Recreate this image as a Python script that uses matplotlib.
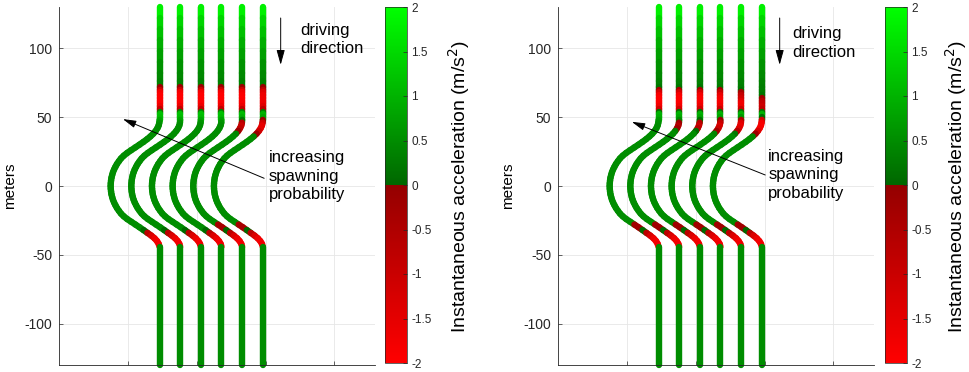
import numpy as np
import matplotlib
matplotlib.use('Agg')
import matplotlib.pyplot as plt
from matplotlib.collections import LineCollection
from matplotlib.colors import LinearSegmentedColormap, Normalize
from matplotlib.cm import ScalarMappable

plt.rcParams['font.family'] = ['Liberation Sans', 'DejaVu Sans']
plt.rcParams['axes.unicode_minus'] = False

# lane centre x positions (m)
lane_x = [23, 38, 53, 68, 83, 98]

# centre line of one lane: straight top part, S-bend, straight bottom part
top_y = [130, 122, 114, 106, 98, 90, 82, 76, 72, 70, 68, 66, 64, 62, 60, 58, 56, 54, 52, 50]
bend_y = [50, 48, 46, 44, 42, 40, 38, 36, 34, 32, 30, 28, 26, 24, 22, 20,
          18, 16, 14, 12, 10, 8, 6, 4, 2, 0, -2, -4, -6, -8, -10, -12,
          -14, -16, -18, -20, -22, -24, -26, -28, -30, -32, -34, -36, -38, -40, -42, -44]
bend_dx = [0, 0, -0.15, -0.6, -1.5, -2.8, -4.5, -6.6, -9.0, -11.7, -14.6, -17.6, -20.6, -23.5, -26.0, -28.0,
           -29.5, -30.9, -32.0, -33.0, -33.8, -34.4, -34.9, -35.2, -35.4, -35.5, -35.4, -35.2, -34.9, -34.4, -33.8, -33.0,
           -32.0, -30.9, -29.5, -28.0, -26.0, -23.5, -20.5, -17.5, -14.5, -11.6, -8.8, -6.0, -3.6, -1.8, -0.6, 0]
bottom_y = [-44, -130]

# instantaneous acceleration (m/s^2) along each lane, one row per lane
left_top_acc = [
    [2.0, 1.6, 1.3, 1.05, 0.85, 0.65, 0.5, 0.4, 0.3, -0.6, -1.6, -2.0, -2.0, -2.0, -2.0, -1.9, -1.4, -0.3, 1.2, 1.2],
    [2.0, 1.6, 1.3, 1.05, 0.85, 0.65, 0.5, 0.4, 0.3, -0.6, -1.6, -2.0, -2.0, -2.0, -2.0, -1.9, -1.4, -0.3, 1.2, 1.2],
    [2.0, 1.6, 1.3, 1.05, 0.85, 0.65, 0.5, 0.4, 0.3, -0.6, -1.6, -2.0, -2.0, -2.0, -2.0, -1.9, -1.4, -0.3, 1.2, 1.2],
    [2.0, 1.6, 1.3, 1.05, 0.85, 0.65, 0.5, 0.4, 0.3, -0.6, -1.6, -2.0, -2.0, -2.0, -2.0, -1.9, -1.4, -0.3, 1.2, 1.2],
    [2.0, 1.6, 1.3, 1.05, 0.85, 0.65, 0.5, 0.4, 0.3, -0.6, -1.6, -1.9, -2.0, -2.0, -1.9, -1.8, -1.4, -0.3, 1.1, 1.1],
    [2.0, 1.6, 1.3, 1.05, 0.85, 0.65, 0.5, 0.4, 0.3, -0.4, -1.2, -1.6, -1.7, -1.7, -1.7, -1.6, -1.2, -0.3, 1.0, 1.0],
]
left_bend_acc = [
    [1.2, 1.0, 0.7, 0.5, 0.5, 0.5, 0.5, 0.5, 0.5, 0.5, 0.5, 0.5, 0.5, 0.5, 0.5, 0.5,
     0.5, 0.5, 0.5, 0.5, 0.5, 0.5, 0.5, 0.5, 0.5, 0.5, 0.5, 0.5, 0.5, 0.5, 0.5, 0.5,
     0.5, 0.5, 0.5, 0.5, 0.5, 0.5, 0.5, 0.5, 0.5, 0.5, -0.4, -1.1, -1.5, -1.8, -1.8, -1.6],
    [1.2, 1.0, 0.7, 0.5, 0.5, 0.5, 0.5, 0.5, 0.5, 0.5, 0.5, 0.5, 0.5, 0.5, 0.5, 0.5,
     0.5, 0.5, 0.5, 0.5, 0.5, 0.5, 0.5, 0.5, 0.5, 0.5, 0.5, 0.5, 0.5, 0.5, 0.5, 0.5,
     0.5, 0.5, 0.5, 0.5, 0.5, 0.5, 0.5, 0.5, 0.5, 0.5, -0.4, -1.1, -1.5, -1.8, -1.8, -1.6],
    [1.2, 1.0, 0.7, 0.5, 0.5, 0.5, 0.5, 0.5, 0.5, 0.5, 0.5, 0.5, 0.5, 0.5, 0.5, 0.5,
     0.5, 0.5, 0.5, 0.5, 0.5, 0.5, 0.5, 0.5, 0.5, 0.5, 0.5, 0.5, 0.5, 0.5, 0.5, 0.5,
     0.5, 0.5, 0.5, 0.5, 0.5, 0.5, 0.5, 0.5, 0.5, 0.5, -0.4, -1.1, -1.5, -1.8, -1.8, -1.6],
    [1.2, 1.0, 0.7, 0.5, 0.5, 0.5, 0.5, 0.5, 0.5, 0.5, 0.5, 0.5, 0.5, 0.5, 0.5, 0.5,
     0.5, 0.5, 0.5, 0.5, 0.5, 0.5, 0.5, 0.5, 0.5, 0.5, 0.5, 0.5, 0.5, 0.5, 0.5, 0.5,
     0.5, 0.5, 0.5, 0.5, 0.5, 0.5, 0.5, 0.5, 0.5, 0.5, -0.4, -1.1, -1.5, -1.8, -1.8, -1.6],
    [1.1, 0.8, -0.3, -1.0, -1.0, -0.6, 0.3, 0.5, 0.5, 0.5, 0.5, 0.5, 0.5, 0.5, 0.5, 0.5,
     0.5, 0.5, 0.5, 0.5, 0.5, 0.5, 0.5, 0.5, 0.5, 0.5, 0.5, 0.5, 0.5, 0.5, 0.5, 0.5,
     0.5, 0.5, 0.5, 0.5, 0.5, 0.5, 0.5, 0.5, -1.2, 0.5, -0.4, -1.1, -1.5, -1.8, -1.8, -1.6],
    [1.0, 0.6, -0.8, -1.5, -1.6, -1.5, -0.6, 0.4, 0.5, 0.5, 0.5, 0.5, 0.5, 0.5, 0.5, 0.5,
     0.5, 0.5, 0.5, 0.5, 0.5, 0.5, 0.5, 0.5, 0.5, 0.5, 0.5, 0.5, 0.5, 0.5, 0.5, 0.5,
     0.5, 0.5, 0.5, 0.5, 0.5, 0.5, 0.5, 0.5, -1.2, 0.5, -0.4, -1.1, -1.5, -1.8, -1.8, -1.6],
]
right_top_acc = [
    [2.0, 1.6, 1.3, 1.05, 0.85, 0.65, 0.5, 0.4, 0.3, 0.1, -0.8, -1.7, -2.0, -2.0, -2.0, -1.9, -1.6, -0.6, 1.0, 1.0],
    [2.0, 1.6, 1.3, 1.05, 0.85, 0.65, 0.5, 0.4, 0.3, 0.1, -0.8, -1.7, -2.0, -2.0, -2.0, -1.9, -1.6, -0.6, 1.0, 1.0],
    [2.0, 1.6, 1.3, 1.05, 0.85, 0.65, 0.5, 0.4, 0.3, 0.1, -0.8, -1.7, -1.9, -2.0, -1.9, -1.8, -1.5, -0.6, 1.0, 1.0],
    [2.0, 1.6, 1.3, 1.05, 0.85, 0.65, 0.5, 0.4, 0.3, 0.2, -0.6, -1.4, -1.8, -1.9, -1.9, -1.8, -1.5, -0.5, 1.0, 1.0],
    [2.0, 1.6, 1.3, 1.05, 0.85, 0.65, 0.5, 0.4, 0.3, 0.3, 0.0, -0.8, -1.0, -1.3, -1.7, -1.8, -1.5, -0.5, 1.0, 1.0],
    [2.0, 1.6, 1.3, 1.05, 0.85, 0.65, 0.5, 0.4, 0.3, 0.3, 0.3, 0.3, 0.1, -0.6, -0.8, -1.0, -1.1, -0.5, 1.0, 1.0],
]
right_bend_acc = [
    [1.0, 0.8, 0.6, 0.5, 0.5, 0.5, 0.5, 0.5, 0.5, 0.5, 0.5, 0.5, 0.5, 0.5, 0.5, 0.5,
     0.5, 0.5, 0.5, 0.5, 0.5, 0.5, 0.5, 0.5, 0.5, 0.5, 0.5, 0.5, 0.5, 0.5, 0.5, 0.5,
     0.5, 0.5, 0.5, 0.5, 0.5, 0.5, 0.5, 0.5, -1.0, 0.5, -0.4, -1.1, -1.5, -1.8, -1.8, -1.6],
    [1.0, 0.7, 0.2, -0.6, -0.6, 0.2, 0.5, 0.5, 0.5, 0.5, 0.5, 0.5, 0.5, 0.5, 0.5, 0.5,
     0.5, 0.5, 0.5, 0.5, 0.5, 0.5, 0.5, 0.5, 0.5, 0.5, 0.5, 0.5, 0.5, 0.5, 0.5, 0.5,
     0.5, 0.5, 0.5, 0.5, 0.5, 0.5, 0.5, 0.5, -1.0, 0.5, -0.4, -1.1, -1.5, -1.8, -1.8, -1.6],
    [1.0, 0.6, -0.3, -1.0, -1.0, -0.3, 0.5, 0.5, 0.5, 0.5, 0.5, 0.5, 0.5, 0.5, 0.5, 0.5,
     0.5, 0.5, 0.5, 0.5, 0.5, 0.5, 0.5, 0.5, 0.5, 0.5, 0.5, 0.5, 0.5, 0.5, 0.5, 0.5,
     0.5, 0.5, 0.5, 0.5, 0.5, 0.5, 0.5, 0.5, -1.0, 0.5, -0.4, -1.1, -1.5, -1.8, -1.8, -1.6],
    [1.0, 0.5, -0.6, -1.3, -1.3, -0.8, 0.3, 0.5, 0.5, 0.5, 0.5, 0.5, 0.5, 0.5, 0.5, 0.5,
     0.5, 0.5, 0.5, 0.5, 0.5, 0.5, 0.5, 0.5, 0.5, 0.5, 0.5, 0.5, 0.5, 0.5, 0.5, 0.5,
     0.5, 0.5, 0.5, 0.5, 0.5, 0.5, 0.5, 0.5, -1.0, 0.5, -0.4, -1.1, -1.5, -1.8, -1.8, -1.6],
    [1.0, 0.2, -1.2, -1.6, -1.6, -1.2, 0.0, 0.5, 0.5, 0.5, 0.5, 0.5, 0.5, 0.5, 0.5, 0.5,
     0.5, 0.5, 0.5, 0.5, 0.5, 0.5, 0.5, 0.5, 0.5, 0.5, 0.5, 0.5, 0.5, 0.5, 0.5, 0.5,
     0.5, 0.5, 0.5, 0.5, 0.5, 0.5, 0.5, 0.5, -1.0, 0.5, -0.4, -1.1, -1.5, -1.8, -1.8, -1.6],
    [0.8, -0.6, -1.7, -1.9, -1.9, -1.7, -0.8, 0.4, 0.5, 0.5, 0.5, 0.5, 0.5, 0.5, 0.5, 0.5,
     0.5, 0.5, 0.5, 0.5, 0.5, 0.5, 0.5, 0.5, 0.5, 0.5, 0.5, 0.5, 0.5, 0.5, 0.5, 0.5,
     0.5, 0.5, 0.5, 0.5, 0.5, 0.5, 0.5, 0.5, -1.0, 0.5, -0.4, -1.1, -1.5, -1.8, -1.8, -1.6],
]
bottom_acc = [0.5, 0.5]

cbar_ticks = [-2, -1.5, -1, -0.5, 0, 0.5, 1, 1.5, 2]
cbar_ticklabels = ['-2', '-1.5', '-1', '-0.5', '0', '0.5', '1', '1.5', '2']

# red (braking) -> dark red | dark green -> bright green (accelerating)
cdict = {'red':   [(0.0, 1.0, 1.0), (0.5, 0.58, 0.0), (1.0, 0.0, 0.0)],
         'green': [(0.0, 0.0, 0.0), (0.5, 0.0, 0.40), (1.0, 1.0, 1.0)],
         'blue':  [(0.0, 0.0, 0.0), (1.0, 0.0, 0.0)]}
cmap = LinearSegmentedColormap('accel', cdict)
norm = Normalize(-2, 2)

lane_lw = 4.6
grey = (0.15, 0.15, 0.15)


def draw_piece(ax, x0, ys, dxs, acc):
    pts = np.column_stack([x0 + np.asarray(dxs, dtype=float), np.asarray(ys, dtype=float)])
    segs = np.stack([pts[:-1], pts[1:]], axis=1)
    acc = np.asarray(acc, dtype=float)
    lc = LineCollection(segs, cmap=cmap, norm=norm, linewidths=lane_lw,
                        capstyle='round', joinstyle='round', clip_on=False)
    lc.set_array((acc[:-1] + acc[1:]) / 2)
    ax.add_collection(lc)


fig = plt.figure(figsize=(9.69, 3.72), dpi=100)

W, H = 969.0, 372.0
panels = [
    dict(ax_left=59, cb_left=385, top=left_top_acc, bend=left_bend_acc,
         drive_txt=(125, 106.5), drive_arrow=(111, 122, 88),
         spawn_txt=(102.4, 7), spawn_arrow=((99, 5.6), (-3.6, 48.6)),
         ylab_x=10.5, cblab_x=459),
    dict(ax_left=558, cb_left=885, top=right_top_acc, bend=right_bend_acc,
         drive_txt=(120, 104), drive_arrow=(111, 122, 88),
         spawn_txt=(102.6, 8), spawn_arrow=((100.5, 8), (3.6, 46.6)),
         ylab_x=508, cblab_x=956.5),
]

for p in panels:
    ax = fig.add_axes([p['ax_left'] / W, 7 / H, 316 / W, 358 / H])
    for i, x0 in enumerate(lane_x):
        draw_piece(ax, x0, top_y, np.zeros(len(top_y)), p['top'][i])
        draw_piece(ax, x0, bend_y, bend_dx, p['bend'][i])
        draw_piece(ax, x0, bottom_y, np.zeros(len(bottom_y)), bottom_acc)

    ax.set_xlim(-50, 179.5)
    ax.set_ylim(-130, 130)
    ax.set_xticks([0, 50, 100, 150])
    ax.set_xticklabels([])
    ax.set_yticks([-100, -50, 0, 50, 100])
    ax.grid(True, color=(0.9, 0.9, 0.9), lw=0.6)
    ax.set_axisbelow(True)
    for s in ['top', 'right']:
        ax.spines[s].set_visible(False)
    for s in ['left', 'bottom']:
        ax.spines[s].set_color(grey)
        ax.spines[s].set_linewidth(0.6)
    ax.tick_params(direction='in', length=3, width=0.5, colors=grey, labelsize=10, pad=5)

    # driving direction
    ax.text(p['drive_txt'][0], p['drive_txt'][1], 'driving\ndirection', fontsize=12,
            ha='left', va='center', linespacing=1.3)
    xa, y1, y2 = p['drive_arrow']
    ax.annotate('', xy=(xa, y2), xytext=(xa, y1),
                arrowprops=dict(arrowstyle='-|>,head_length=0.9,head_width=0.25',
                                color='k', lw=0.7, shrinkA=0, shrinkB=0))

    # spawning probability
    ax.text(p['spawn_txt'][0], p['spawn_txt'][1], 'increasing\nspawning\nprobability', fontsize=12,
            ha='left', va='center', linespacing=1.3)
    tail, tip = p['spawn_arrow']
    ax.annotate('', xy=tip, xytext=tail,
                arrowprops=dict(arrowstyle='-|>,head_length=0.8,head_width=0.22',
                                color='k', lw=0.7, shrinkA=0, shrinkB=0))

    fig.text(p['ylab_x'] / W, (H - 186) / H, 'meters', rotation=90, fontsize=11,
             ha='center', va='center')

    # colour bar
    cax = fig.add_axes([p['cb_left'] / W, 9 / H, 22 / W, 356 / H])
    cb = fig.colorbar(ScalarMappable(norm=norm, cmap=cmap), cax=cax)
    cb.set_ticks(cbar_ticks)
    cb.set_ticklabels(cbar_ticklabels)
    cb.outline.set_edgecolor(grey)
    cb.outline.set_linewidth(0.5)
    cax.tick_params(direction='in', length=3, width=0.5, colors=grey, labelsize=8.5, pad=3)
    fig.text(p['cblab_x'] / W, (H - 186) / H, 'Instantaneous acceleration (m/s$^2$)',
             rotation=90, fontsize=14, ha='center', va='center')

fig.savefig('out.png', dpi=100)
